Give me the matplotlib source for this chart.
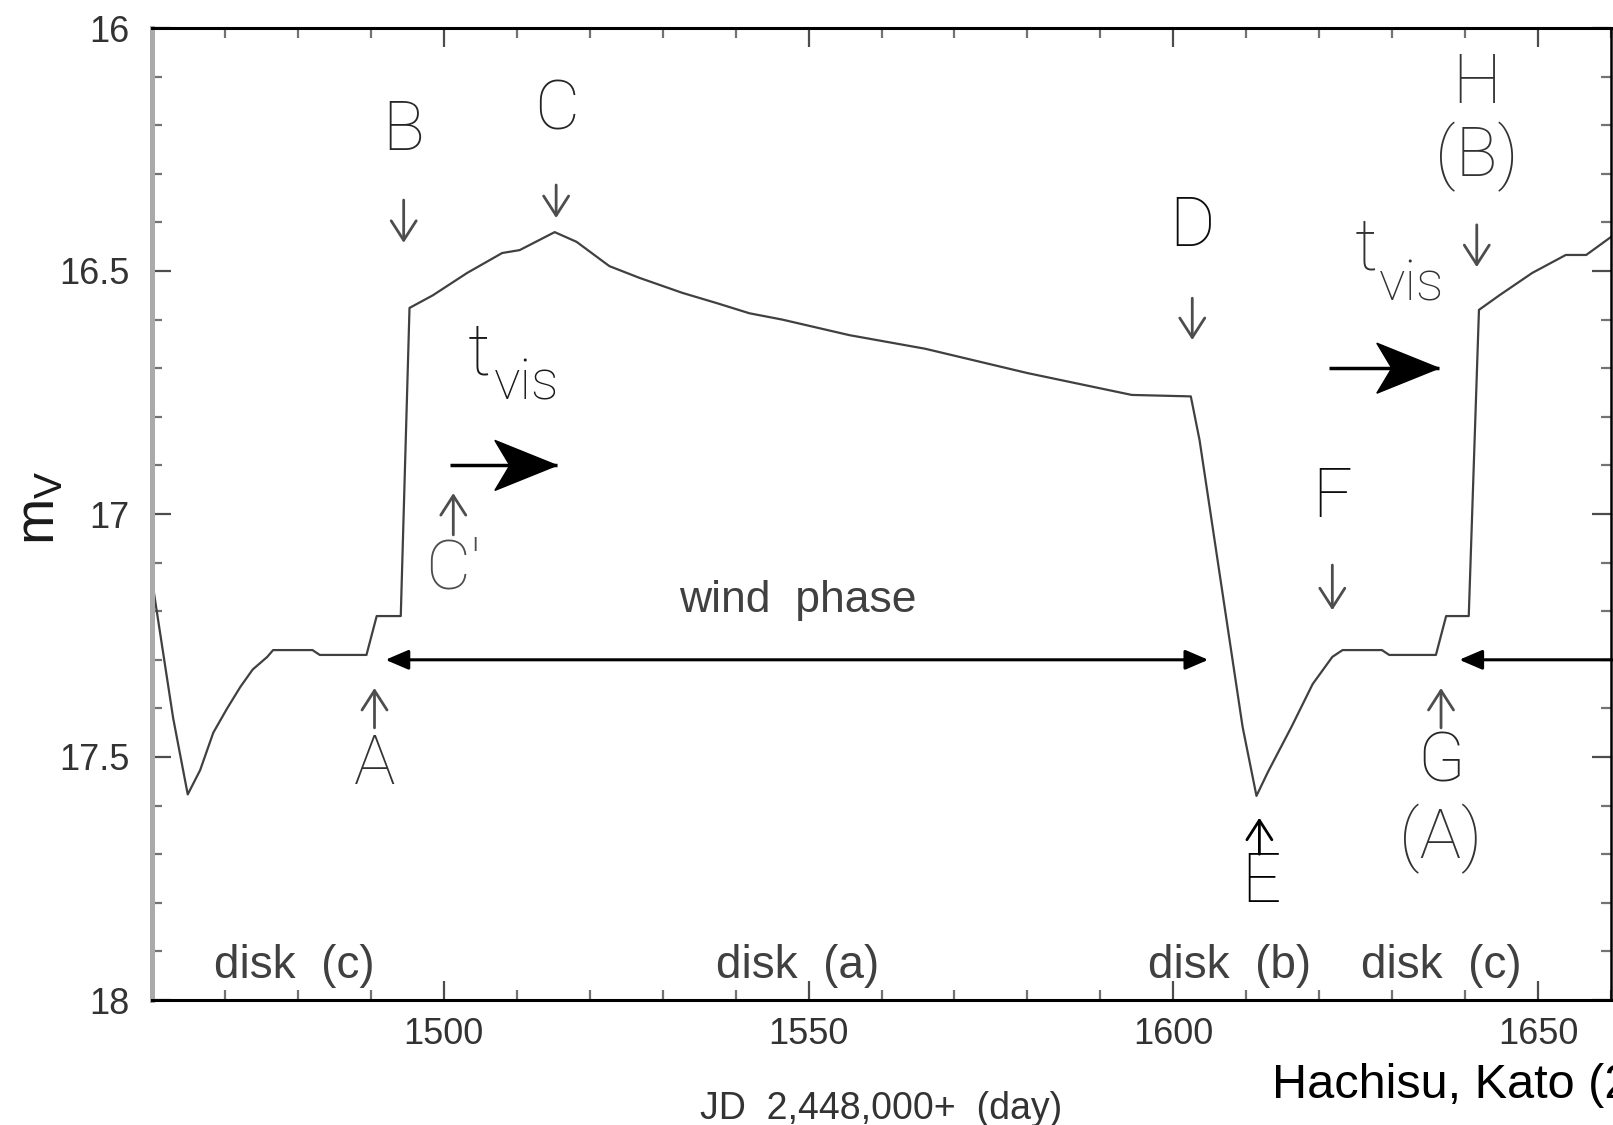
import numpy as np
import matplotlib
matplotlib.use('Agg')
import matplotlib.pyplot as plt
import matplotlib.font_manager as fm
from matplotlib.ticker import MultipleLocator
from matplotlib.patches import Polygon
from matplotlib.transforms import ScaledTranslation

plt.rcParams['font.family'] = ['Liberation Sans', 'DejaVu Sans']
plt.rcParams['mathtext.default'] = 'regular'

# light-curve model (JD - 2,448,000, V magnitude)
days = [1460.0, 1462.9, 1464.9, 1466.6, 1468.4, 1470.3, 1472.1,
        1473.8, 1475.8, 1476.6, 1482.0, 1483.0, 1489.4, 1490.8, 1494.1, 1495.3,
        1498.5, 1503.2, 1508.0, 1510.4, 1515.2, 1518.2, 1522.7, 1526.8, 1532.7,
        1537.4, 1541.9, 1546.4, 1555.6, 1566.0, 1580.0, 1594.3, 1602.4, 1603.6,
        1609.5, 1611.4, 1613.0, 1616.2, 1619.1, 1621.8, 1623.2, 1628.6, 1629.6,
        1636.0, 1637.4, 1640.5, 1641.9, 1644.7, 1649.2, 1653.8, 1656.6, 1660.0]
m_v = [17.136, 17.42, 17.577, 17.527, 17.45, 17.40, 17.356,
       17.32, 17.294, 17.28, 17.28, 17.29, 17.29, 17.21, 17.21, 16.576,
       16.55, 16.504, 16.463, 16.457, 16.42, 16.44, 16.49, 16.514, 16.545,
       16.566, 16.587, 16.60, 16.632, 16.66, 16.71, 16.755, 16.758, 16.848,
       17.438, 17.58, 17.53, 17.438, 17.35, 17.294, 17.28, 17.28, 17.29,
       17.29, 17.21, 17.21, 16.58, 16.55, 16.504, 16.467, 16.467, 16.43]

x_ticks = [1500, 1550, 1600, 1650]
x_tick_labels = ['1500', '1550', '1600', '1650']
y_ticks = [16, 16.5, 17, 17.5, 18]
y_tick_labels = ['16', '16.5', '17', '17.5', '18']

# pick a thin, narrow face for the big letters if one is around
names = {}
for f in fm.fontManager.ttflist:
    names.setdefault(f.name, set()).add(f.weight)
if 'Roboto' in names and any(w in (300, 'light') for w in names['Roboto']):
    letter_font = dict(family='Roboto', weight='light')
elif 'Liberation Sans Narrow' in names:
    letter_font = dict(family='Liberation Sans Narrow')
else:
    letter_font = dict(family='Liberation Sans')

W, H = 1613, 1125
fig = plt.figure(figsize=(W / 100, H / 100), dpi=100)
ax = fig.add_axes([152 / W, 125 / H, 1459 / W, 972 / H])

ax.plot(days, m_v, color='0.25', lw=1.6)

ax.set_xlim(1460, 1660)
ax.set_ylim(18, 16)
ax.set_xticks(x_ticks)
ax.set_xticklabels(x_tick_labels)
ax.set_yticks(y_ticks)
ax.set_yticklabels(y_tick_labels)
ax.xaxis.set_minor_locator(MultipleLocator(10))
ax.yaxis.set_minor_locator(MultipleLocator(0.1))
ax.tick_params(which='both', direction='in', top=True, right=True,
               labelsize=26, labelcolor='0.2', width=1.6)
ax.tick_params(which='major', length=14, color='0.3')
ax.tick_params(which='minor', length=7, color='0.45')
ax.tick_params(axis='x', pad=12)
ax.tick_params(axis='y', pad=16)

ax.spines['left'].set_color('#aaaaaa')
ax.spines['left'].set_linewidth(3.6)
for s in ['top', 'bottom']:
    ax.spines[s].set_linewidth(2.2)
    ax.spines[s].set_color('black')
ax.spines['right'].set_linewidth(1.8)

ax.set_xlabel('JD  2,448,000+  (day)', fontsize=27, color='0.2', labelpad=28)
fig.text(40 / W, 1 - 508 / H, '$m_V$', fontsize=40, color='0.1', rotation=90,
         ha='center', va='center')

# small event arrows with letter labels: (label, x, y_text, y_tail, y_head, color)
small = dict(arrowstyle='->,head_length=0.7,head_width=0.45', color='0.3',
             lw=2, shrinkA=0, shrinkB=0, mutation_scale=20)
events = [
    ('B', 1494.5, 16.212, 16.354, 16.442, '0.15'),
    ('C', 1515.4, 16.17, 16.323, 16.391, '0.15'),
    ('D', 1602.6, 16.41, 16.556, 16.642, '0.05'),
    ('F', 1621.8, 16.967, 17.105, 17.198, '0.05'),
    ("C'", 1501.3, 17.115, 17.043, 16.957, '0.3'),
    ('A', 1490.5, 17.516, 17.44, 17.358, '0.2'),
    ('G', 1636.7, 17.512, 17.44, 17.358, '0.15'),
]
for lab, x, yt, y0, y1, c in events:
    ax.annotate('', xy=(x, y1), xytext=(x, y0), arrowprops=small)
    ax.text(x, yt, lab, fontsize=50, color=c, ha='center', va='center', **letter_font)

ax.annotate('', xy=(1611.8, 17.625), xytext=(1611.8, 17.70),
            arrowprops=dict(small, color='black'))
ax.text(1612.0, 17.76, 'E', fontsize=50, color='black', ha='center', va='center',
        **letter_font)

ax.annotate('', xy=(1641.6, 16.492), xytext=(1641.6, 16.405), arrowprops=small)
ax.text(1641.6, 16.115, 'H', fontsize=50, color='0.2', ha='center', va='center', **letter_font)
ax.text(1641.6, 16.265, '(B)', fontsize=50, color='0.2', ha='center', va='center', **letter_font)
ax.text(1636.7, 17.668, '(A)', fontsize=50, color='0.2', ha='center', va='center', **letter_font)


# t_vis labels, written as t plus a lowered "vis"
def t_vis(x_t, base_t, x_s, base_s, color):
    ax.text(x_t, base_t, 't', fontsize=52, color=color, ha='left', va='baseline', **letter_font)
    ax.text(x_s, base_s, 'vis', fontsize=40, color=color, ha='left', va='baseline', **letter_font)


# big right-pointing arrows with a barbed head
def big_arrow(x0, x1, y):
    ax.plot([x0, x1], [y, y], color='black', lw=2.5, solid_capstyle='butt')
    trans = fig.dpi_scale_trans + ScaledTranslation(x1, y, ax.transData)
    L, N, w = 0.62, 0.47, 0.25
    ax.add_patch(Polygon([(0, 0), (-L, w), (-N, 0), (-L, -w)], closed=True,
                         transform=trans, fc='black', ec='black', lw=1))


t_vis(1503.3, 16.712, 1506.8, 16.765, '0.1')
big_arrow(1500.8, 1515.5, 16.90)
t_vis(1624.8, 16.497, 1628.2, 16.56, '0.2')
big_arrow(1621.4, 1636.4, 16.70)

# wind phase
wind = dict(arrowstyle='<|-|>,head_length=0.7,head_width=0.3', color='black',
            lw=2.2, shrinkA=0, shrinkB=0, mutation_scale=20)
ax.annotate('', xy=(1604.8, 17.30), xytext=(1492.0, 17.30), arrowprops=wind)
ax.annotate('', xy=(1639.2, 17.30), xytext=(1660.5, 17.30), annotation_clip=False,
            arrowprops=dict(wind, arrowstyle='-|>,head_length=0.7,head_width=0.3'))
ax.text(1548.5, 17.177, 'wind  phase', fontsize=32, color='0.25', ha='center', va='center')

for lab, x in [('disk  (c)', 1479.5), ('disk  (a)', 1548.5),
               ('disk  (b)', 1607.7), ('disk  (c)', 1636.7)]:
    ax.text(x, 17.955, lab, fontsize=33, color='0.25', ha='center', va='baseline')

fig.text(1272 / W, 1 - 1085 / H, 'Hachisu, Kato (2003)', fontsize=35,
         color='black', ha='left', va='center')

fig.savefig('out.png', dpi=100)
